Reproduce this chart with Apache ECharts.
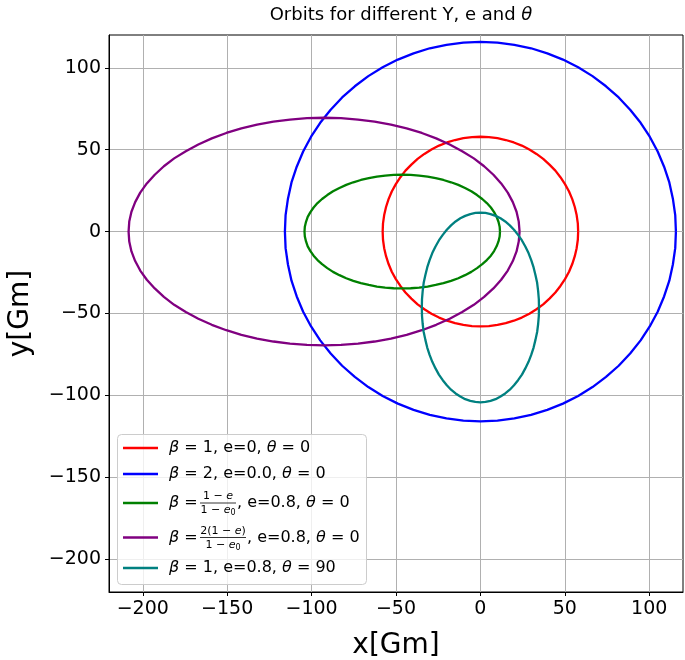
<!DOCTYPE html>
<html>
<head>
<meta charset="utf-8">
<script src="https://cdn.jsdelivr.net/npm/echarts@6/dist/echarts.min.js"></script>
<style>
html,body{margin:0;padding:0;background:#fff;}
#chart{width:685px;height:660px;}
</style>
</head>
<body>
<div id="chart"></div>
<script>
// ---- data (orbit outlines, Gm) ----
const seriesNames = ['red', 'blue', 'green', 'purple', 'teal'];

const redX = [57.9, 57.7, 57.0, 55.9, 54.4, 52.5, 50.1, 47.4, 44.4, 40.9, 37.2, 33.2, 29.0, 24.5, 19.8, 15.0, 10.1, 5.0, 0,
  -5.0, -10.1, -15.0, -19.8, -24.5, -29.0, -33.2, -37.2, -40.9, -44.4, -47.4, -50.1, -52.5, -54.4, -55.9, -57.0, -57.7, -57.9,
  -57.7, -57.0, -55.9, -54.4, -52.5, -50.1, -47.4, -44.4, -40.9, -37.2, -33.2, -29.0, -24.5, -19.8, -15.0, -10.1, -5.0, 0,
  5.0, 10.1, 15.0, 19.8, 24.5, 29.0, 33.2, 37.2, 40.9, 44.4, 47.4, 50.1, 52.5, 54.4, 55.9, 57.0, 57.7, 57.9];
const redY = [0, 5.0, 10.1, 15.0, 19.8, 24.5, 29.0, 33.2, 37.2, 40.9, 44.4, 47.4, 50.1, 52.5, 54.4, 55.9, 57.0, 57.7, 57.9,
  57.7, 57.0, 55.9, 54.4, 52.5, 50.1, 47.4, 44.4, 40.9, 37.2, 33.2, 29.0, 24.5, 19.8, 15.0, 10.1, 5.0, 0,
  -5.0, -10.1, -15.0, -19.8, -24.5, -29.0, -33.2, -37.2, -40.9, -44.4, -47.4, -50.1, -52.5, -54.4, -55.9, -57.0, -57.7, -57.9,
  -57.7, -57.0, -55.9, -54.4, -52.5, -50.1, -47.4, -44.4, -40.9, -37.2, -33.2, -29.0, -24.5, -19.8, -15.0, -10.1, -5.0, 0];

const blueX = [115.8, 115.4, 114.0, 111.9, 108.8, 105.0, 100.3, 94.9, 88.7, 81.9, 74.4, 66.4, 57.9, 48.9, 39.6, 30.0, 20.1, 10.1, 0,
  -10.1, -20.1, -30.0, -39.6, -48.9, -57.9, -66.4, -74.4, -81.9, -88.7, -94.9, -100.3, -105.0, -108.8, -111.9, -114.0, -115.4, -115.8,
  -115.4, -114.0, -111.9, -108.8, -105.0, -100.3, -94.9, -88.7, -81.9, -74.4, -66.4, -57.9, -48.9, -39.6, -30.0, -20.1, -10.1, 0,
  10.1, 20.1, 30.0, 39.6, 48.9, 57.9, 66.4, 74.4, 81.9, 88.7, 94.9, 100.3, 105.0, 108.8, 111.9, 114.0, 115.4, 115.8];
const blueY = [0, 10.1, 20.1, 30.0, 39.6, 48.9, 57.9, 66.4, 74.4, 81.9, 88.7, 94.9, 100.3, 105.0, 108.8, 111.9, 114.0, 115.4, 115.8,
  115.4, 114.0, 111.9, 108.8, 105.0, 100.3, 94.9, 88.7, 81.9, 74.4, 66.4, 57.9, 48.9, 39.6, 30.0, 20.1, 10.1, 0,
  -10.1, -20.1, -30.0, -39.6, -48.9, -57.9, -66.4, -74.4, -81.9, -88.7, -94.9, -100.3, -105.0, -108.8, -111.9, -114.0, -115.4, -115.8,
  -115.4, -114.0, -111.9, -108.8, -105.0, -100.3, -94.9, -88.7, -81.9, -74.4, -66.4, -57.9, -48.9, -39.6, -30.0, -20.1, -10.1, 0];

const greenX = [11.6, 11.4, 10.7, 9.6, 8.1, 6.2, 3.8, 1.1, -2.0, -5.4, -9.1, -13.1, -17.4, -21.9, -26.5, -31.3, -36.3, -41.3, -46.3,
  -51.4, -56.4, -61.3, -66.1, -70.8, -75.3, -79.5, -83.5, -87.3, -90.7, -93.8, -96.5, -98.8, -100.7, -102.3, -103.3, -104.0, -104.2,
  -104.0, -103.3, -102.3, -100.7, -98.8, -96.5, -93.8, -90.7, -87.3, -83.5, -79.5, -75.3, -70.8, -66.1, -61.3, -56.4, -51.4, -46.3,
  -41.3, -36.3, -31.3, -26.5, -21.9, -17.4, -13.1, -9.1, -5.4, -2.0, 1.1, 3.8, 6.2, 8.1, 9.6, 10.7, 11.4, 11.6];
const greenY = [0, 3.0, 6.0, 9.0, 11.9, 14.7, 17.4, 19.9, 22.3, 24.6, 26.6, 28.5, 30.1, 31.5, 32.6, 33.6, 34.2, 34.6, 34.7,
  34.6, 34.2, 33.6, 32.6, 31.5, 30.1, 28.5, 26.6, 24.6, 22.3, 19.9, 17.4, 14.7, 11.9, 9.0, 6.0, 3.0, 0,
  -3.0, -6.0, -9.0, -11.9, -14.7, -17.4, -19.9, -22.3, -24.6, -26.6, -28.5, -30.1, -31.5, -32.6, -33.6, -34.2, -34.6, -34.7,
  -34.6, -34.2, -33.6, -32.6, -31.5, -30.1, -28.5, -26.6, -24.6, -22.3, -19.9, -17.4, -14.7, -11.9, -9.0, -6.0, -3.0, 0];

const purpleX = [23.2, 22.7, 21.4, 19.2, 16.2, 12.3, 7.7, 2.2, -3.9, -10.8, -18.2, -26.2, -34.7, -43.7, -53.0, -62.7, -72.5, -82.6, -92.6,
  -102.7, -112.8, -122.6, -132.3, -141.6, -150.5, -159.1, -167.1, -174.5, -181.4, -187.5, -192.9, -197.6, -201.5, -204.5, -206.7, -208.0, -208.4,
  -208.0, -206.7, -204.5, -201.5, -197.6, -192.9, -187.5, -181.4, -174.5, -167.1, -159.1, -150.5, -141.6, -132.3, -122.6, -112.8, -102.7, -92.6,
  -82.6, -72.5, -62.7, -53.0, -43.7, -34.7, -26.2, -18.2, -10.8, -3.9, 2.2, 7.7, 12.3, 16.2, 19.2, 21.4, 22.7, 23.2];
const purpleY = [0, 6.1, 12.1, 18.0, 23.8, 29.4, 34.7, 39.9, 44.7, 49.1, 53.2, 56.9, 60.2, 63.0, 65.3, 67.1, 68.4, 69.2, 69.5,
  69.2, 68.4, 67.1, 65.3, 63.0, 60.2, 56.9, 53.2, 49.1, 44.7, 39.9, 34.7, 29.4, 23.8, 18.0, 12.1, 6.1, 0,
  -6.1, -12.1, -18.0, -23.8, -29.4, -34.7, -39.9, -44.7, -49.1, -53.2, -56.9, -60.2, -63.0, -65.3, -67.1, -68.4, -69.2, -69.5,
  -69.2, -68.4, -67.1, -65.3, -63.0, -60.2, -56.9, -53.2, -49.1, -44.7, -39.9, -34.7, -29.4, -23.8, -18.0, -12.1, -6.1, 0];

const tealX = [0, 3.0, 6.0, 9.0, 11.9, 14.7, 17.4, 19.9, 22.3, 24.6, 26.6, 28.5, 30.1, 31.5, 32.6, 33.6, 34.2, 34.6, 34.7,
  34.6, 34.2, 33.6, 32.6, 31.5, 30.1, 28.5, 26.6, 24.6, 22.3, 19.9, 17.4, 14.7, 11.9, 9.0, 6.0, 3.0, 0,
  -3.0, -6.0, -9.0, -11.9, -14.7, -17.4, -19.9, -22.3, -24.6, -26.6, -28.5, -30.1, -31.5, -32.6, -33.6, -34.2, -34.6, -34.7,
  -34.6, -34.2, -33.6, -32.6, -31.5, -30.1, -28.5, -26.6, -24.6, -22.3, -19.9, -17.4, -14.7, -11.9, -9.0, -6.0, -3.0, 0];
const tealY = [11.6, 11.4, 10.7, 9.6, 8.1, 6.2, 3.8, 1.1, -2.0, -5.4, -9.1, -13.1, -17.4, -21.9, -26.5, -31.3, -36.3, -41.3, -46.3,
  -51.4, -56.4, -61.3, -66.1, -70.8, -75.3, -79.5, -83.5, -87.3, -90.7, -93.8, -96.5, -98.8, -100.7, -102.3, -103.3, -104.0, -104.2,
  -104.0, -103.3, -102.3, -100.7, -98.8, -96.5, -93.8, -90.7, -87.3, -83.5, -79.5, -75.3, -70.8, -66.1, -61.3, -56.4, -51.4, -46.3,
  -41.3, -36.3, -31.3, -26.5, -21.9, -17.4, -13.1, -9.1, -5.4, -2.0, 1.1, 3.8, 6.2, 8.1, 9.6, 10.7, 11.4, 11.6];

const xTicks = [-200, -150, -100, -50, 0, 50, 100];
const yTicks = [-200, -150, -100, -50, 0, 50, 100];

// ---- styling ----
const FONT = 'DejaVu Sans';
const colors = ['#ff0000', '#0000ff', '#008000', '#800080', '#008080'];
const orbitsX = [redX, blueX, greenX, purpleX, tealX];
const orbitsY = [redY, blueY, greenY, purpleY, tealY];

const fmt = v => String(v).replace('-', '\u2212');

const series = orbitsX.map((xs, k) => ({
  name: seriesNames[k],
  type: 'line',
  data: xs.map((x, i) => [x, orbitsY[k][i]]),
  showSymbol: false,
  symbol: 'none',
  animation: false,
  lineStyle: { color: colors[k], width: 2.3, join: 'round' },
  itemStyle: { color: colors[k] },
  z: 3 + k
}));

function axisCommon(ticks) {
  return {
    type: 'value',
    min: -220,
    max: 120,
    axisLine: { show: true, onZero: false, lineStyle: { color: '#000', width: 1 } },
    axisTick: { show: true, length: 4, lineStyle: { color: '#000', width: 1 }, customValues: ticks },
    axisLabel: { customValues: ticks, formatter: fmt, fontSize: 19, color: '#000', fontFamily: FONT, margin: 8 },
    splitLine: { show: true, lineStyle: { color: '#b0b0b0', width: 1 } }
  };
}

const xAxis = Object.assign(axisCommon(xTicks), {
  name: 'x[Gm]', nameLocation: 'middle', nameGap: 40,
  nameTextStyle: { fontSize: 28, color: '#000', fontFamily: FONT }
});
const yAxis = Object.assign(axisCommon(yTicks), {
  name: 'y[Gm]', nameLocation: 'middle', nameGap: 74,
  nameTextStyle: { fontSize: 28, color: '#000', fontFamily: FONT }
});

// ---- legend drawn as graphic (fractions need stacked text) ----
const rowY = [448, 474, 503, 537.5, 568];
const rich = {
  n: { fontSize: 16, fontFamily: FONT, color: '#000' },
  i: { fontSize: 16, fontFamily: FONT, fontStyle: 'italic', color: '#000' }
};
const fracRich = {
  n: { fontSize: 11, fontFamily: FONT, color: '#000' },
  i: { fontSize: 11, fontFamily: FONT, fontStyle: 'italic', color: '#000' },
  s: { fontSize: 8, fontFamily: FONT, fontStyle: 'normal', color: '#000', verticalAlign: 'bottom', padding: [5, 0, 0, 0] }
};
function txt(x, y, text, r, align, size) {
  return {
    type: 'text', x: x, y: y, z: 101,
    style: { text: text, rich: r, fontSize: size || 16, fontFamily: FONT, fill: '#000', align: align || 'left', verticalAlign: 'middle' }
  };
}
const graphic = [
  { type: 'rect', z: 100, shape: { x: 117.5, y: 434.5, width: 249, height: 150, r: 4 },
    style: { fill: 'rgba(255,255,255,0.8)', stroke: '#cccccc', lineWidth: 1 } }
];
colors.forEach((c, k) => {
  graphic.push({ type: 'line', z: 101, shape: { x1: 123, y1: rowY[k], x2: 158, y2: rowY[k] }, style: { stroke: c, lineWidth: 2.3 } });
});
graphic.push(txt(169, rowY[0], '{i|\u03b2}{n| = 1, e=0, }{i|\u03b8}{n| = 0}', rich));
graphic.push(txt(169, rowY[1], '{i|\u03b2}{n| = 2, e=0.0, }{i|\u03b8}{n| = 0}', rich));
// row 3
graphic.push(txt(169, rowY[2], '{i|\u03b2}{n| =}', rich));
graphic.push(txt(218, rowY[2] - 6.5, '{n|1 \u2212 }{i|e}', fracRich, 'center', 11));
graphic.push({ type: 'line', z: 101, shape: { x1: 200, y1: rowY[2], x2: 236, y2: rowY[2] }, style: { stroke: '#000', lineWidth: 0.8 } });
graphic.push(txt(218, rowY[2] + 7.5, '{n|1 \u2212 }{i|e}{s|0}', fracRich, 'center', 11));
graphic.push(txt(237, rowY[2], '{n|, e=0.8, }{i|\u03b8}{n| = 0}', rich));
// row 4
graphic.push(txt(169, rowY[3], '{i|\u03b2}{n| =}', rich));
graphic.push(txt(223, rowY[3] - 6.5, '{n|2(1 \u2212 }{i|e}{n|)}', fracRich, 'center', 11));
graphic.push({ type: 'line', z: 101, shape: { x1: 200, y1: rowY[3], x2: 246, y2: rowY[3] }, style: { stroke: '#000', lineWidth: 0.8 } });
graphic.push(txt(223, rowY[3] + 7.5, '{n|1 \u2212 }{i|e}{s|0}', fracRich, 'center', 11));
graphic.push(txt(247, rowY[3], '{n|, e=0.8, }{i|\u03b8}{n| = 0}', rich));
// row 5
graphic.push(txt(169, rowY[4], '{i|\u03b2}{n| = 1, e=0.8, }{i|\u03b8}{n| = 90}', rich));

const option = {
  backgroundColor: '#ffffff',
  animation: false,
  title: {
    text: '{n|Orbits for different Y, e and }{i|\u03b8}',
    left: 396, top: 1, textAlign: 'center',
    textStyle: {
      fontSize: 18, fontFamily: FONT, color: '#000', fontWeight: 'normal',
      rich: {
        n: { fontSize: 18, fontFamily: FONT, color: '#000' },
        i: { fontSize: 18, fontFamily: FONT, color: '#000', fontStyle: 'italic' }
      }
    }
  },
  grid: { left: 109, right: 2, top: 35, bottom: 68, show: true, borderColor: '#000', borderWidth: 1, backgroundColor: 'transparent', containLabel: false, outerBoundsMode: 'none' },
  xAxis: xAxis,
  yAxis: yAxis,
  series: series,
  graphic: graphic
};

const chart = echarts.init(document.getElementById('chart'), null, { renderer: 'canvas' });
chart.setOption(option);
</script>
</body>
</html>
